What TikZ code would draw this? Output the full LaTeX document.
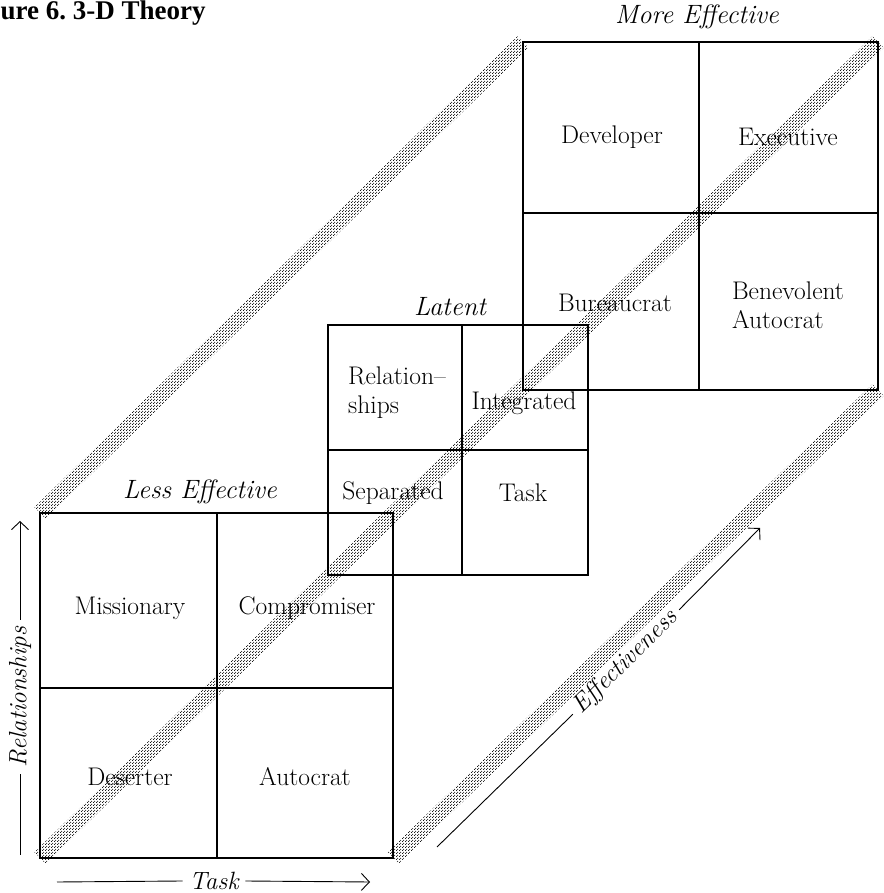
\documentclass[tikz,border=0pt]{standalone}
\usepackage{fontspec}
\newfontfamily\titlefont{Liberation Serif}
\usetikzlibrary{arrows.meta,calc,patterns}

% halftone dots for the shaded bands
\pgfdeclarepatternformonly{halftone}{\pgfqpoint{0pt}{0pt}}{\pgfqpoint{3pt}{3pt}}{\pgfqpoint{3pt}{3pt}}{%
  \pgfpathcircle{\pgfqpoint{0.75pt}{0.75pt}}{0.68pt}
  \pgfpathcircle{\pgfqpoint{2.25pt}{2.25pt}}{0.68pt}
  \pgfusepath{fill}}

\begin{document}
\begin{tikzpicture}[x=1pt,y=1pt,line width=1.2pt,
  every node/.style={font=\fontsize{25.5}{29}\selectfont},
  cell/.style={align=left},
  heading/.style={font=\fontsize{26.5}{30}\selectfont\itshape},
  axis/.style={font=\fontsize{25}{29}\selectfont\itshape,inner sep=6pt},
  band/.style={pattern=halftone,pattern color=black},
  barb/.style={-{Straight Barb[length=8pt,width=17pt]},line width=.9pt}]

% page size
\useasboundingbox (0,0) rectangle (883,893);

% corners of the three squares
\coordinate (fs-bl) at (40,35);   \coordinate (fs-tr) at (393,380);
\coordinate (fs-tl) at (40,380);  \coordinate (fs-br) at (393,35);
\coordinate (ms-bl) at (328,318); \coordinate (ms-tr) at (588,568);
\coordinate (bs-bl) at (523,503); \coordinate (bs-tr) at (878,851);
\coordinate (bs-tl) at (523,851); \coordinate (bs-br) at (878,503);

% shaded bands (third dimension)
\foreach \a/\b in {fs-tl/bs-tl,fs-bl/bs-tr,fs-br/bs-br}
  \fill[band] ($(\a)!8pt!90:(\b)$) -- ($(\b)!8pt!-90:(\a)$)
    -- ($(\b)!8pt!90:(\a)$) -- ($(\a)!8pt!-90:(\b)$) -- cycle;

% less effective square
\draw (fs-bl) rectangle (fs-tr);
\draw (217,35) -- (217,380);
\draw (40,205) -- (393,205);

% latent square
\draw (ms-bl) rectangle (ms-tr);
\draw (462,318) -- (462,568);
\draw (328,443) -- (588,443);

% more effective square
\draw (bs-bl) rectangle (bs-tr);
\draw (699,503) -- (699,851);
\draw (523,680) -- (878,680);

% title
\node[anchor=base west,inner sep=0,font=\titlefont\bfseries\fontsize{27}{32}\selectfont] (title) at (0,873) {ure 6.\ 3-D Theory};

% labels of the less effective square
\node[heading] (lesseff) at (200,401) {Less Effective};
\node (missionary) at (130,285) {Missionary};
\node (compromiser) at (307,285) {Compromiser};
\node (deserter) at (130,116) {Deserter};
\node (autocrat) at (305,116) {Autocrat};

% labels of the latent square
\node[heading] (latent) at (450,586) {Latent};
\node[cell] (relations) at (397,500) {Relation--\\ships};
\node (integrated) at (524,490) {Integrated};
\node (separated) at (393,400) {Separated};
\node (task) at (523,400) {Task};

% labels of the more effective square
\node[heading] (moreeff) at (697,876) {More Effective};
\node (developer) at (612,756) {Developer};
\node (executive) at (788,756) {Executive};
\node (bureaucrat) at (615,590) {Bureaucrat};
\node[cell] (benevolent) at (788,588) {Benevolent\\Autocrat};

% axes
\coordinate (task-from) at (57,11);
\coordinate (task-to) at (370,11);
\node[axis] (taskaxis) at (214,12) {Task};
\draw[line width=.9pt] (task-from) -- (taskaxis.west);
\draw[barb] (taskaxis.east) -- (task-to);

\coordinate (rel-from) at (20,38);
\coordinate (rel-to) at (20,372);
\node[axis,rotate=90] (relaxis) at (20,196) {Relationships};
\draw[line width=.9pt] (rel-from) -- (relaxis.west);
\draw[barb] (relaxis.east) -- (rel-to);

\coordinate (eff-from) at (437,46);
\coordinate (eff-to) at (760,365);
\node[axis,rotate=44.5] (effaxis) at (626,231) {Effectiveness};
\draw[line width=.9pt] (eff-from) -- (effaxis.west);
\draw[barb] (effaxis.east) -- (eff-to);

\end{tikzpicture}
\end{document}
